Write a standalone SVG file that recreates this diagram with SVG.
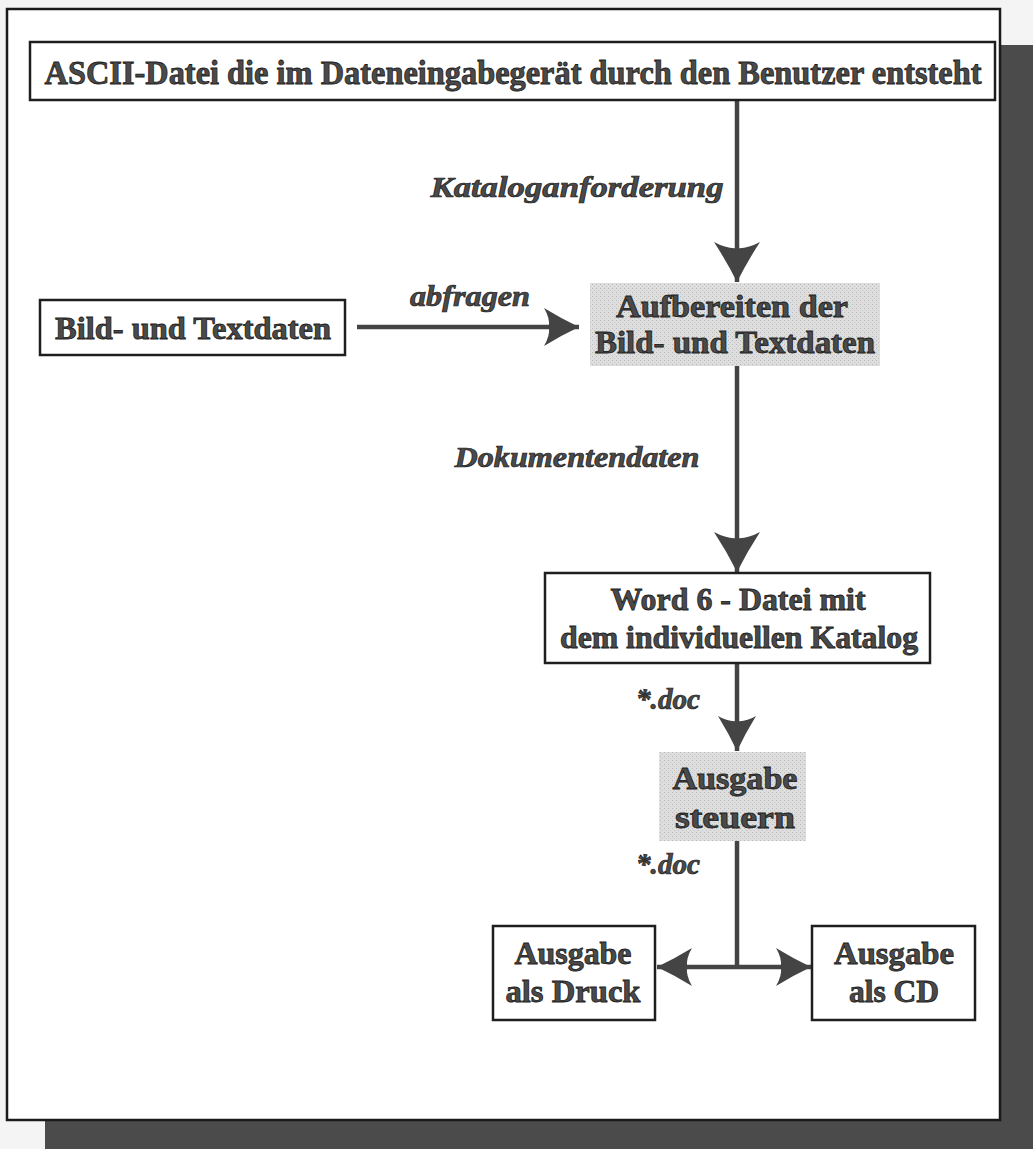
<svg xmlns="http://www.w3.org/2000/svg" width="1033" height="1149" viewBox="0 0 1033 1149">
<defs>
<style>
.box{fill:#fff;stroke:#1e1e1e;stroke-width:2.5}
.t{font-family:"Liberation Serif","Times New Roman",serif;font-weight:bold;fill:#4a4a4a;stroke:#1c1c1c;stroke-width:0.8;text-anchor:middle}
.lbl{font-family:"Liberation Serif","Times New Roman",serif;font-weight:bold;font-style:italic;fill:#4a4a4a;stroke:#1c1c1c;stroke-width:0.7;text-anchor:middle}
.ln{fill:none;stroke:#444;stroke-width:4.5}
</style>
<marker id="big" markerUnits="userSpaceOnUse" markerWidth="46" markerHeight="50" viewBox="-42 -25 46 50" refX="0" refY="0" orient="auto">
<path d="M0,0 Q-20,-10 -40,-23 Q-33,-10 -34,0 Q-33,10 -40,23 Q-20,10 0,0 z" fill="#444"/>
</marker>
<marker id="small" markerUnits="userSpaceOnUse" markerWidth="40" markerHeight="42" viewBox="-36 -21 40 42" refX="0" refY="0" orient="auto">
<path d="M0,0 Q-17,-8 -35,-19 Q-29,-9 -30,0 Q-29,9 -35,19 Q-17,8 0,0 z" fill="#444"/>
</marker>
<pattern id="stip" width="4" height="4" patternUnits="userSpaceOnUse">
<rect width="4" height="4" fill="#dedede"/>
<rect x="0" y="0" width="1" height="1" fill="#b8b8b8"/>
<rect x="2" y="2" width="1" height="1" fill="#c4c4c4"/>
</pattern>
</defs>
<rect x="0" y="0" width="1033" height="1149" fill="#f4f4f4"/>
<rect x="45" y="45" width="988" height="1104" fill="#4b4b4b"/>
<rect x="7" y="9" width="993" height="1111" fill="#fff" stroke="#1a1a1a" stroke-width="2.5"/>

<g id="connectors">
<line class="ln" x1="737" y1="101" x2="737" y2="282" marker-end="url(#big)"/>
<line class="ln" x1="357" y1="327" x2="579" y2="327" stroke-width="6" marker-end="url(#small)"/>
<line class="ln" x1="737" y1="366" x2="737" y2="572" marker-end="url(#big)"/>
<line class="ln" x1="737" y1="664" x2="737" y2="751" marker-end="url(#small)"/>
<polyline class="ln" points="737,841 737,967"/>
<line class="ln" x1="737" y1="967" x2="657" y2="967" marker-end="url(#small)"/>
<line class="ln" x1="737" y1="967" x2="811" y2="967" marker-end="url(#small)"/>
<text class="lbl" x="577" y="197" font-size="29" textLength="293" lengthAdjust="spacingAndGlyphs">Kataloganforderung</text>
<text class="lbl" x="470" y="306" font-size="29" textLength="120" lengthAdjust="spacingAndGlyphs">abfragen</text>
<text class="lbl" x="577" y="467" font-size="29" textLength="245" lengthAdjust="spacingAndGlyphs">Dokumentendaten</text>
<text class="lbl" x="668" y="709" font-size="29" textLength="64" lengthAdjust="spacingAndGlyphs">*.doc</text>
<text class="lbl" x="668" y="874" font-size="29" textLength="64" lengthAdjust="spacingAndGlyphs">*.doc</text>
</g>

<g id="node-ascii">
<rect class="box" x="30" y="42" width="965" height="58"/>
<text class="t" x="513" y="84" font-size="34" textLength="937" lengthAdjust="spacingAndGlyphs">ASCII-Datei die im Dateneingabegerät durch den Benutzer entsteht</text>
</g>

<g id="node-bild">
<rect class="box" x="40" y="300" width="305" height="55"/>
<text class="t" x="193" y="339" font-size="32" textLength="276" lengthAdjust="spacingAndGlyphs">Bild- und Textdaten</text>
</g>

<g id="node-aufbereiten">
<rect x="590" y="283" width="290" height="83" fill="url(#stip)"/>
<text class="t" x="732" y="317" font-size="32" textLength="232" lengthAdjust="spacingAndGlyphs">Aufbereiten der</text>
<text class="t" x="735" y="353" font-size="32" textLength="280" lengthAdjust="spacingAndGlyphs">Bild- und Textdaten</text>
</g>

<g id="node-word">
<rect class="box" x="545" y="573" width="385" height="90"/>
<text class="t" x="738" y="610" font-size="32" textLength="255" lengthAdjust="spacingAndGlyphs">Word 6 - Datei mit</text>
<text class="t" x="739" y="648" font-size="32" textLength="358" lengthAdjust="spacingAndGlyphs">dem individuellen Katalog</text>
</g>

<g id="node-steuern">
<rect x="659" y="752" width="147" height="89" fill="url(#stip)"/>
<text class="t" x="735" y="789" font-size="32" textLength="125" lengthAdjust="spacingAndGlyphs">Ausgabe</text>
<text class="t" x="735" y="828" font-size="32" textLength="120" lengthAdjust="spacingAndGlyphs">steuern</text>
</g>

<g id="node-druck">
<rect class="box" x="493" y="926" width="162" height="94"/>
<text class="t" x="573" y="964" font-size="32" textLength="117" lengthAdjust="spacingAndGlyphs">Ausgabe</text>
<text class="t" x="573" y="1002" font-size="32" textLength="135" lengthAdjust="spacingAndGlyphs">als Druck</text>
</g>

<g id="node-cd">
<rect class="box" x="812" y="926" width="163" height="94"/>
<text class="t" x="894" y="964" font-size="32" textLength="120" lengthAdjust="spacingAndGlyphs">Ausgabe</text>
<text class="t" x="894" y="1002" font-size="32" textLength="90" lengthAdjust="spacingAndGlyphs">als CD</text>
</g>
</svg>
